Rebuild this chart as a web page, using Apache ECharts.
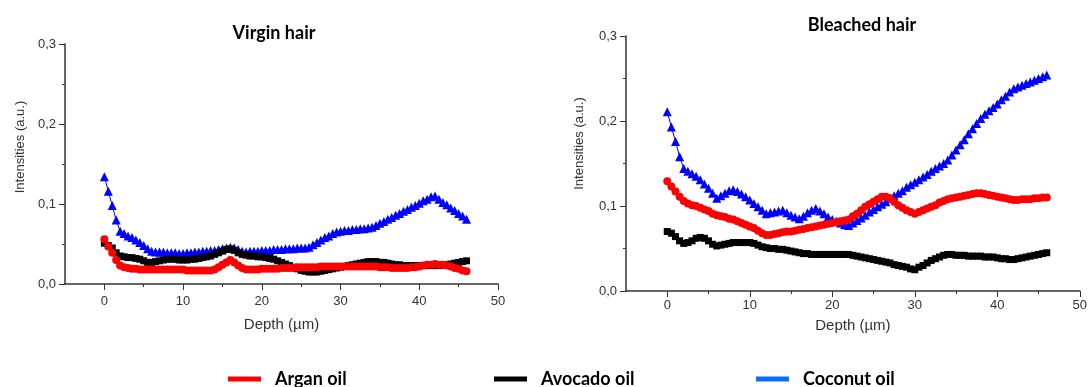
<!DOCTYPE html>
<html>
<head>
<meta charset="utf-8">
<script src="https://cdn.jsdelivr.net/npm/echarts@6/dist/echarts.min.js"></script>
<style>
  html, body { margin: 0; padding: 0; background: #fff; }
  #chart { width: 1090px; height: 387px; }
</style>
</head>
<body>
<div id="chart"></div>
<script>
// depth in µm, one reading every 0.5 µm
const depth = [
  0, 0.5, 1, 1.5, 2, 2.5, 3, 3.5, 4, 4.5, 5, 5.5, 6, 6.5, 7, 7.5, 8, 8.5, 9, 9.5,
  10, 10.5, 11, 11.5, 12, 12.5, 13, 13.5, 14, 14.5, 15, 15.5, 16, 16.5, 17, 17.5, 18, 18.5, 19, 19.5,
  20, 20.5, 21, 21.5, 22, 22.5, 23, 23.5, 24, 24.5, 25, 25.5, 26, 26.5, 27, 27.5, 28, 28.5, 29, 29.5,
  30, 30.5, 31, 31.5, 32, 32.5, 33, 33.5, 34, 34.5, 35, 35.5, 36, 36.5, 37, 37.5, 38, 38.5, 39, 39.5,
  40, 40.5, 41, 41.5, 42, 42.5, 43, 43.5, 44, 44.5, 45, 45.5, 46
];

// Virgin hair
const arganVirgin = [
  .056, .047, .039, .030, .023, .021, .020, .019, .019, .018,
  .018, .018, .018, .018, .018, .018, .018, .018, .018, .018,
  .018, .017, .017, .017, .017, .017, .017, .017, .018, .021,
  .024, .027, .030, .027, .023, .020, .018, .018, .018, .018,
  .019, .019, .019, .019, .019, .020, .020, .020, .020, .021,
  .021, .021, .021, .021, .021, .022, .022, .022, .022, .022,
  .022, .022, .022, .022, .022, .022, .022, .022, .022, .022,
  .021, .021, .021, .020, .020, .020, .020, .020, .021, .021,
  .022, .023, .024, .024, .025, .024, .024, .023, .022, .020,
  .019, .017, .016
];
const avocadoVirgin = [
  .051, .048, .045, .039, .035, .034, .033, .033, .032, .031,
  .029, .027, .027, .028, .029, .030, .031, .031, .031, .030,
  .030, .030, .031, .031, .032, .033, .034, .035, .037, .039,
  .041, .043, .044, .042, .039, .037, .036, .035, .035, .034,
  .034, .033, .032, .031, .029, .027, .025, .023, .021, .019,
  .017, .016, .015, .015, .015, .016, .017, .018, .019, .020,
  .021, .022, .023, .024, .025, .026, .027, .028, .028, .028,
  .027, .027, .026, .025, .024, .024, .023, .023, .023, .023,
  .023, .023, .023, .023, .023, .023, .024, .024, .025, .026,
  .027, .028, .029
];
const coconutVirgin = [
  .134, .116, .098, .080, .066, .063, .060, .058, .055, .052,
  .048, .044, .041, .040, .040, .040, .039, .039, .039, .038,
  .038, .039, .039, .040, .040, .041, .041, .042, .042, .043,
  .044, .045, .046, .045, .043, .041, .040, .041, .041, .041,
  .042, .042, .042, .043, .043, .043, .044, .044, .044, .045,
  .045, .045, .046, .049, .052, .055, .058, .060, .063, .065,
  .066, .067, .067, .068, .068, .069, .069, .070, .071, .073,
  .076, .078, .081, .083, .086, .088, .091, .093, .096, .098,
  .101, .104, .106, .109, .110, .106, .102, .099, .095, .092,
  .088, .085, .081
];

// Bleached hair
const arganBleached = [
  .129, .123, .117, .111, .106, .103, .101, .100, .098, .096,
  .094, .091, .089, .088, .087, .085, .084, .082, .080, .078,
  .076, .074, .071, .068, .066, .066, .067, .068, .069, .070,
  .070, .071, .072, .073, .074, .075, .076, .077, .078, .079,
  .080, .081, .082, .083, .084, .088, .091, .095, .099, .102,
  .105, .108, .111, .111, .109, .105, .101, .098, .095, .093,
  .091, .093, .095, .097, .099, .101, .104, .106, .108, .109,
  .110, .111, .112, .113, .114, .115, .115, .114, .113, .112,
  .111, .110, .109, .108, .107, .107, .108, .108, .108, .109,
  .109, .110, .110
];
const avocadoBleached = [
  .070, .068, .064, .059, .056, .057, .059, .062, .063, .062,
  .059, .055, .053, .054, .055, .056, .057, .057, .057, .057,
  .057, .056, .054, .052, .051, .050, .050, .049, .049, .048,
  .047, .046, .045, .044, .044, .043, .043, .043, .043, .043,
  .043, .043, .043, .043, .043, .042, .041, .040, .039, .038,
  .037, .036, .035, .034, .033, .031, .030, .029, .028, .026,
  .025, .028, .030, .033, .036, .038, .040, .042, .043, .043,
  .042, .042, .042, .041, .041, .041, .041, .040, .040, .040,
  .039, .038, .038, .037, .037, .038, .039, .040, .041, .042,
  .043, .044, .045
];
const coconutBleached = [
  .211, .193, .176, .158, .144, .141, .138, .135, .131, .126,
  .121, .115, .109, .112, .115, .118, .119, .117, .114, .111,
  .107, .103, .099, .095, .091, .092, .093, .094, .095, .092,
  .089, .087, .085, .088, .092, .095, .097, .094, .091, .087,
  .084, .082, .080, .078, .077, .080, .083, .086, .089, .093,
  .096, .099, .102, .105, .109, .112, .115, .118, .122, .125,
  .128, .131, .134, .137, .141, .144, .147, .150, .154, .160,
  .166, .172, .178, .185, .191, .197, .203, .208, .212, .216,
  .220, .225, .229, .234, .238, .240, .242, .244, .246, .248,
  .250, .252, .254
];

const titles = ['Virgin hair', 'Bleached hair'];
const xMajor = [0, 10, 20, 30, 40, 50];
const xMinor = [5, 15, 25, 35, 45];

const chart = echarts.init(document.getElementById('chart'));

const pair = vals => depth.map((d, i) => [d, vals[i]]);
const labelFont = { fontFamily: 'Liberation Sans', fontSize: 13, color: '#333' };

const makeX = (gridIndex, nameGap, labelMargin) => [
  {
    gridIndex, type: 'value', min: -5, max: 50, position: 'bottom',
    name: 'Depth (\u00b5m)', nameLocation: 'middle', nameGap,
    nameTextStyle: { fontFamily: 'Liberation Sans', fontSize: 15, color: '#333' },
    axisLine: { onZero: false, lineStyle: { color: '#333', width: 1.5 } },
    axisTick: { length: 6, customValues: xMajor, lineStyle: { color: '#333' } },
    axisLabel: { ...labelFont, margin: labelMargin, customValues: xMajor },
    splitLine: { show: false }
  },
  {
    gridIndex, type: 'value', min: -5, max: 50, position: 'bottom',
    axisLine: { show: false, onZero: false },
    axisTick: { length: 3, customValues: xMinor, lineStyle: { color: '#333' } },
    axisLabel: { show: false },
    splitLine: { show: false }
  }
];

// name sits a little above the middle of the axis in the original
const makeY = (gridIndex, nameGap, shift) => ({
  gridIndex, type: 'value', min: 0, max: 0.3, interval: 0.1, position: 'left',
  name: 'Intensities (a.u.)', nameLocation: 'middle', nameGap,
  nameTextStyle: { fontFamily: 'Liberation Sans', fontSize: 13, color: '#333', padding: [0, 0, 0, shift] },
  axisLine: { show: true, onZero: false, lineStyle: { color: '#333', width: 1.5 } },
  axisTick: { show: true, length: 6, lineStyle: { color: '#333' } },
  minorTick: { show: true, splitNumber: 2, length: 3, lineStyle: { color: '#333' } },
  axisLabel: { ...labelFont, margin: 9, formatter: v => v.toFixed(1).replace('.', ',') },
  splitLine: { show: false }
});

const makeSeries = (name, vals, xi, yi, color, symbol, size, z) => ({
  name, type: 'line', data: pair(vals), xAxisIndex: xi, yAxisIndex: yi,
  symbol, symbolSize: size, z,
  itemStyle: { color },
  lineStyle: { color, width: 1 }
});

chart.setOption({
  animation: false,
  grid: [
    { left: 65, top: 44, width: 433, height: 240 },
    { left: 626, top: 36, width: 456, height: 255 }
  ],
  xAxis: [...makeX(0, 33, 11), ...makeX(1, 27, 8)],
  yAxis: [makeY(0, 38, 34), makeY(1, 40, 40)],
  graphic: [
    { type: 'text', x: 274, y: 33, style: { text: titles[0], align: 'center', verticalAlign: 'middle', font: 'bold 18px Lato', fill: '#000' } },
    { type: 'text', x: 862, y: 25, style: { text: titles[1], align: 'center', verticalAlign: 'middle', font: 'bold 18px Lato', fill: '#000' } }
  ],
  legend: [
    { data: [{ name: 'Argan oil', itemStyle: { color: '#ff0000' } }], left: 228, top: 370 },
    { data: [{ name: 'Avocado oil', itemStyle: { color: '#000000' } }], left: 494, top: 370 },
    { data: [{ name: 'Coconut oil', itemStyle: { color: '#0a6cff' } }], left: 756, top: 370 }
  ].map(l => ({
    ...l, icon: 'rect', itemWidth: 33, itemHeight: 5, padding: 0,
    textStyle: { fontFamily: 'Lato', fontWeight: 'bold', fontSize: 18, color: '#000', padding: [0, 0, 0, 9] }
  })),
  series: [
    makeSeries('Coconut oil', coconutVirgin, 0, 0, '#0000ff', 'triangle', 9, 2),
    makeSeries('Avocado oil', avocadoVirgin, 0, 0, '#000000', 'rect', 7, 3),
    makeSeries('Argan oil', arganVirgin, 0, 0, '#ff0000', 'circle', 8, 4),
    makeSeries('Coconut oil', coconutBleached, 2, 1, '#0000ff', 'triangle', 9, 2),
    makeSeries('Avocado oil', avocadoBleached, 2, 1, '#000000', 'rect', 7, 3),
    makeSeries('Argan oil', arganBleached, 2, 1, '#ff0000', 'circle', 8, 4)
  ]
});
</script>
</body>
</html>
